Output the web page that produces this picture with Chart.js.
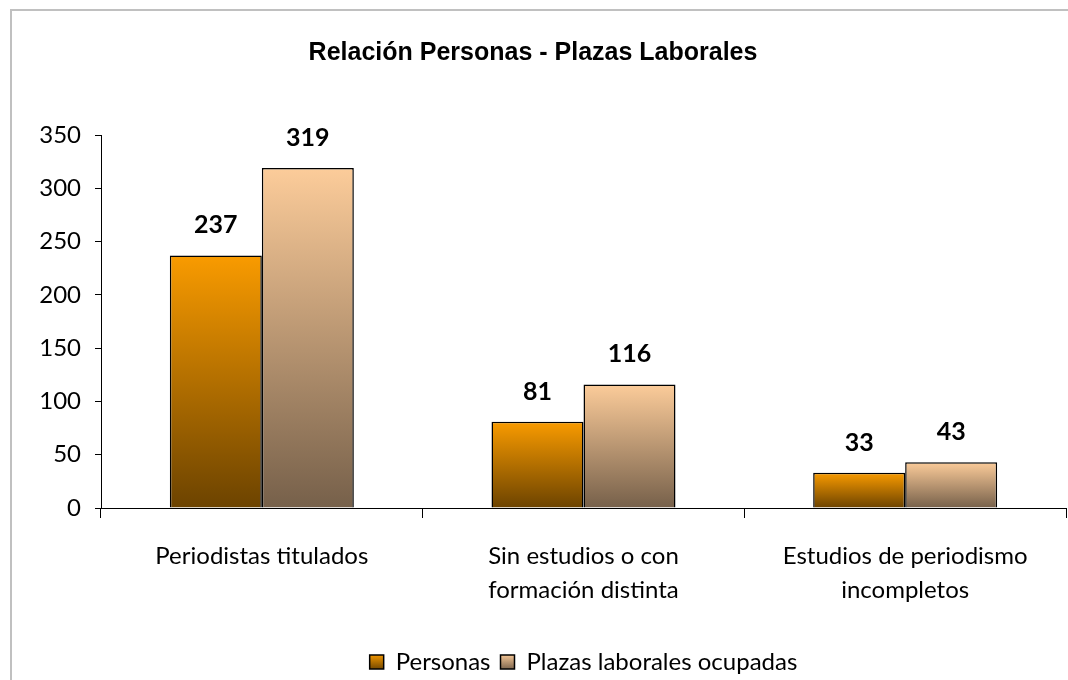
<!DOCTYPE html>
<html>
<head>
<meta charset="utf-8">
<script src="https://cdn.jsdelivr.net/npm/chart.js@4/dist/chart.umd.min.js"></script>
<style>
  html, body { margin: 0; padding: 0; background: #ffffff; }
  #wrap { width: 1068px; height: 680px; position: relative; }
</style>
</head>
<body>
<div id="wrap"><canvas id="c" width="1068" height="680"></canvas></div>
<script>
const chartTitle = 'Relación Personas - Plazas Laborales';
const categories = [
  ['Periodistas titulados'],
  ['Sin estudios o con', 'formación distinta'],
  ['Estudios de periodismo', 'incompletos']
];
const seriesNames = ['Personas', 'Plazas laborales ocupadas'];
const personas = [237, 81, 33];
const plazas = [319, 116, 43];
const yTicks = [0, 50, 100, 150, 200, 250, 300, 350];

const gradStops = [
  ['#f99b00', '#6c4300'],
  ['#fccc9a', '#76604a']
];

function barGradient(idx) {
  return function (ctx) {
    const chart = ctx.chart;
    const stops = gradStops[idx];
    if (ctx.type !== 'data' || !chart.chartArea || !chart.scales.y) return stops[0];
    const y = chart.scales.y;
    const top = y.getPixelForValue(ctx.raw);
    const bot = y.getPixelForValue(0);
    const g = chart.ctx.createLinearGradient(0, top, 0, bot);
    g.addColorStop(0, stops[0]);
    g.addColorStop(1, stops[1]);
    return g;
  };
}

const frame = {
  id: 'frame',
  beforeDraw(chart) {
    const c = chart.ctx;
    c.save();
    c.fillStyle = '#ffffff';
    c.fillRect(0, 0, chart.width, chart.height);
    c.strokeStyle = '#c0c0c0';
    c.lineWidth = 2;
    c.strokeRect(11, 10, 1400, 1000);
    c.restore();
    const lg = chart.legend;
    if (lg && lg.legendItems && lg.legendHitBoxes) {
      lg.legendItems.forEach((it, i) => {
        const hb = lg.legendHitBoxes[i];
        if (!hb) return;
        const g = c.createLinearGradient(0, hb.top + 4, 0, hb.top + hb.height - 4);
        g.addColorStop(0, gradStops[i][0]);
        g.addColorStop(1, gradStops[i][1]);
        it.fillStyle = g;
      });
    }
  }
};

const dataLabels = {
  id: 'dataLabels',
  afterDatasetsDraw(chart) {
    const c = chart.ctx;
    c.save();
    c.font = 'bold 25px Lato';
    c.fillStyle = '#000000';
    c.textAlign = 'center';
    c.textBaseline = 'middle';
    chart.data.datasets.forEach((ds, di) => {
      const meta = chart.getDatasetMeta(di);
      meta.data.forEach((el, i) => {
        c.fillText(String(ds.data[i]), el.x, el.y - 30);
      });
    });
    c.restore();
  }
};

new Chart(document.getElementById('c'), {
  type: 'bar',
  data: {
    labels: categories,
    datasets: [
      { label: seriesNames[0], data: personas, backgroundColor: barGradient(0), borderColor: '#000000', borderWidth: 1.5, borderSkipped: 'bottom' },
      { label: seriesNames[1], data: plazas, backgroundColor: barGradient(1), borderColor: '#000000', borderWidth: 1.5, borderSkipped: 'bottom' }
    ]
  },
  options: {
    responsive: false,
    animation: false,
    events: [],
    layout: { padding: { left: 0, right: 2, top: 0, bottom: -4 } },
    datasets: { bar: { categoryPercentage: 0.572, barPercentage: 1.0 } },
    plugins: {
      title: {
        display: true,
        text: chartTitle,
        color: '#000000',
        font: { family: 'Liberation Sans', size: 25, weight: 'bold', lineHeight: 1.2 },
        padding: { top: 38, bottom: 67 }
      },
      legend: {
        position: 'bottom',
        fullSize: false,
        labels: {
          color: '#000000',
          font: { family: 'Lato', size: 24 },
          boxWidth: 14,
          boxHeight: 14,
          padding: 10
        }
      },
      tooltip: { enabled: false }
    },
    scales: {
      x: {
        afterFit(s) { s.height = 132; },
        grid: { display: true, drawOnChartArea: false, drawTicks: true, tickLength: 10, color: '#000000', offset: true },
        border: { display: true, color: '#000000', width: 1 },
        ticks: { color: '#000000', font: { family: 'Lato', size: 24, lineHeight: 1.42 }, padding: 21, maxRotation: 0, autoSkip: false }
      },
      y: {
        min: 0,
        max: 350,
        afterFit(s) { s.width = 101; },
        afterBuildTicks(s) { s.ticks = yTicks.map(v => ({ value: v })); },
        grid: { display: true, drawOnChartArea: false, drawTicks: true, tickLength: 6, color: '#000000' },
        border: { display: true, color: '#000000', width: 1 },
        ticks: { color: '#000000', font: { family: 'Lato', size: 24 }, padding: 14 }
      }
    }
  },
  plugins: [frame, dataLabels]
});
</script>
</body>
</html>
